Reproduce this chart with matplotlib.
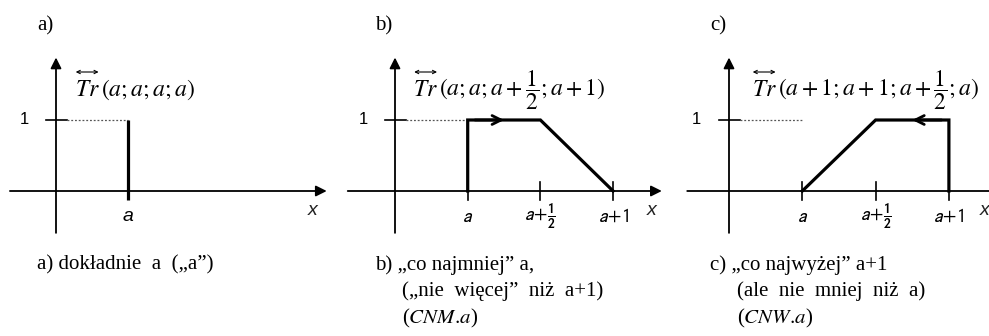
import matplotlib
matplotlib.use("Agg")
import matplotlib.pyplot as plt

# x positions in units of half a step: y-axis = 0, a = 1, a+1/2 = 2, a+1 = 3
tick_pos = [1, 2, 3]
tick_lbl = [r"$a$", r"$a\!+\!\mathbf{\frac{1}{2}}$", r"$a\!+\!1$"]

# membership functions (x, mu)
a_x = [1, 1]
a_y = [-0.13, 1]
b_x = [1, 1, 2, 3]
b_y = [0, 1, 1, 0]
c_x = [1, 2, 3, 3]
c_y = [0, 1, 1, 0]

panel_letters = ["a)", "b)", "c)"]
title_args = [
    r"$(a;a;a;a)$",
    r"$(a;a;a+\dfrac{1}{2};a+1)$",
    r"$(a+1;a+1;a+\dfrac{1}{2};a)$",
]
captions = [
    ["a) dokładnie  a  (\u201ea\u201d)"],
    ["b) \u201eco najmniej\u201d a,", "(\u201enie  więcej\u201d  niż  a+1)", r"($\mathit{CNM.\!a}$)"],
    ["c) \u201eco najwyżej\u201d a+1", "(ale  nie  mniej  niż  a)", r"($\mathit{CNW.\!a}$)"],
]

W, H = 989, 336
fig = plt.figure(figsize=(W / 100, H / 100), dpi=100)

# panel geometry in pixels: left edge, width, y-axis position, px per unit
panels = [(0, 330, 56, 72.0), (330, 330, 65, 72.7), (660, 329, 69, 73.3)]
x_start = [-0.64, -0.65, -0.57]
x_end = [3.76, 3.67, 3.75]
x_lbl = [3.56, 3.53, 3.55]
letter_px = [37, 45, 50]
title_x = [0.26, 0.25, 0.31]
oy = 191      # x-axis row (px from top)
sy = 71.0     # px per unit of mu

serif = "Liberation Serif"
sans = "Liberation Sans"

axes = []
tr_texts = []
for i, (left, width, ox, sx) in enumerate(panels):
    ax = fig.add_axes([left / W, 0, width / W, 1])
    ax.set_xlim(-ox / sx, (width - ox) / sx)
    ax.set_ylim(-(H - oy) / sy, oy / sy)
    ax.axis("off")
    axes.append(ax)

    # axes with arrows
    ax.annotate("", xy=(x_end[i], 0), xytext=(x_start[i], 0), annotation_clip=False,
                arrowprops=dict(arrowstyle="-|>", color="black", lw=1.3,
                                mutation_scale=16, shrinkA=0, shrinkB=0))
    ax.annotate("", xy=(0, 1.88), xytext=(0, -0.59), annotation_clip=False,
                arrowprops=dict(arrowstyle="-|>", color="black", lw=1.3,
                                mutation_scale=16, shrinkA=0, shrinkB=0))

    # tick at mu = 1 and dotted guide
    ax.plot([-0.14, 0.15], [1, 1], color="black", lw=1.2)
    ax.plot([0.15, 1], [1, 1], color="#555555", lw=0.9, ls=(0, (1.5, 1.5)))
    ax.text(-0.44, 1, "1", ha="center", va="center", fontsize=12, family=sans)

    ax.text(x_lbl[i], -0.27, "x", ha="right" if i == 2 else "center", va="center",
            fontsize=14, family=sans, style="italic", color="#222222")

    if i == 0:
        ax.plot(a_x, a_y, color="black", lw=2.3, solid_capstyle="butt")
        ax.text(1, -0.36, "a", ha="center", va="center", fontsize=14,
                family=sans, style="italic")
    else:
        xs, ys = (b_x, b_y) if i == 1 else (c_x, c_y)
        for t in tick_pos:
            ax.plot([t, t], [-0.13, 0.13], color="black", lw=1.2)
        ax.plot(xs, ys, color="black", lw=2.3, solid_joinstyle="miter")
        for t, lbl in zip(tick_pos, tick_lbl):
            ax.text(t, -0.36, lbl, ha="center", va="center", fontsize=14,
                    math_fontfamily="stixsans")
        if i == 1:
            ax.annotate("", xy=(1.5, 1), xytext=(1.1, 1),
                        arrowprops=dict(arrowstyle="->", color="black", lw=2.0,
                                        mutation_scale=16, shrinkA=0, shrinkB=0))
        else:
            ax.annotate("", xy=(2.5, 1), xytext=(2.9, 1),
                        arrowprops=dict(arrowstyle="->", color="black", lw=2.0,
                                        mutation_scale=16, shrinkA=0, shrinkB=0))

    # curve name: "Tr" first, the rest placed after it once sizes are known
    tr = ax.text(title_x[i], (oy - 96) / sy, r"$Tr$", ha="left", va="baseline",
                 fontsize=17, math_fontfamily="stix")
    tr_texts.append(tr)

    # panel letter
    lx = (letter_px[i] - ox) / sx
    ax.text(lx, (oy - 26) / sy, panel_letters[i], ha="left",
            va="center", fontsize=15, family=serif)

    # caption lines
    for k, line in enumerate(captions[i]):
        cx = lx if k == 0 else lx + 27 / sx
        ax.text(cx, (oy - 265 - 26.5 * k) / sy, line, ha="left",
                va="center", fontsize=15, family=serif, math_fontfamily="stix")

fig.canvas.draw()
renderer = fig.canvas.get_renderer()
for i, (ax, tr) in enumerate(zip(axes, tr_texts)):
    bb = tr.get_window_extent(renderer)
    inv = ax.transData.inverted()
    xl, yt = inv.transform((bb.x0 + 1, bb.y1 + 5))
    xr, _ = inv.transform((bb.x1 - 1, bb.y1 + 5))
    ax.annotate("", xy=(xr, yt), xytext=(xl, yt),
                arrowprops=dict(arrowstyle="<->", color="black", lw=0.8,
                                mutation_scale=6, shrinkA=0, shrinkB=0))
    xe, _ = inv.transform((bb.x1 + 1, bb.y0))
    ax.text(xe, tr.get_position()[1], title_args[i], ha="left", va="baseline",
            fontsize=17, math_fontfamily="stix")

fig.savefig("out.png", dpi=100)
